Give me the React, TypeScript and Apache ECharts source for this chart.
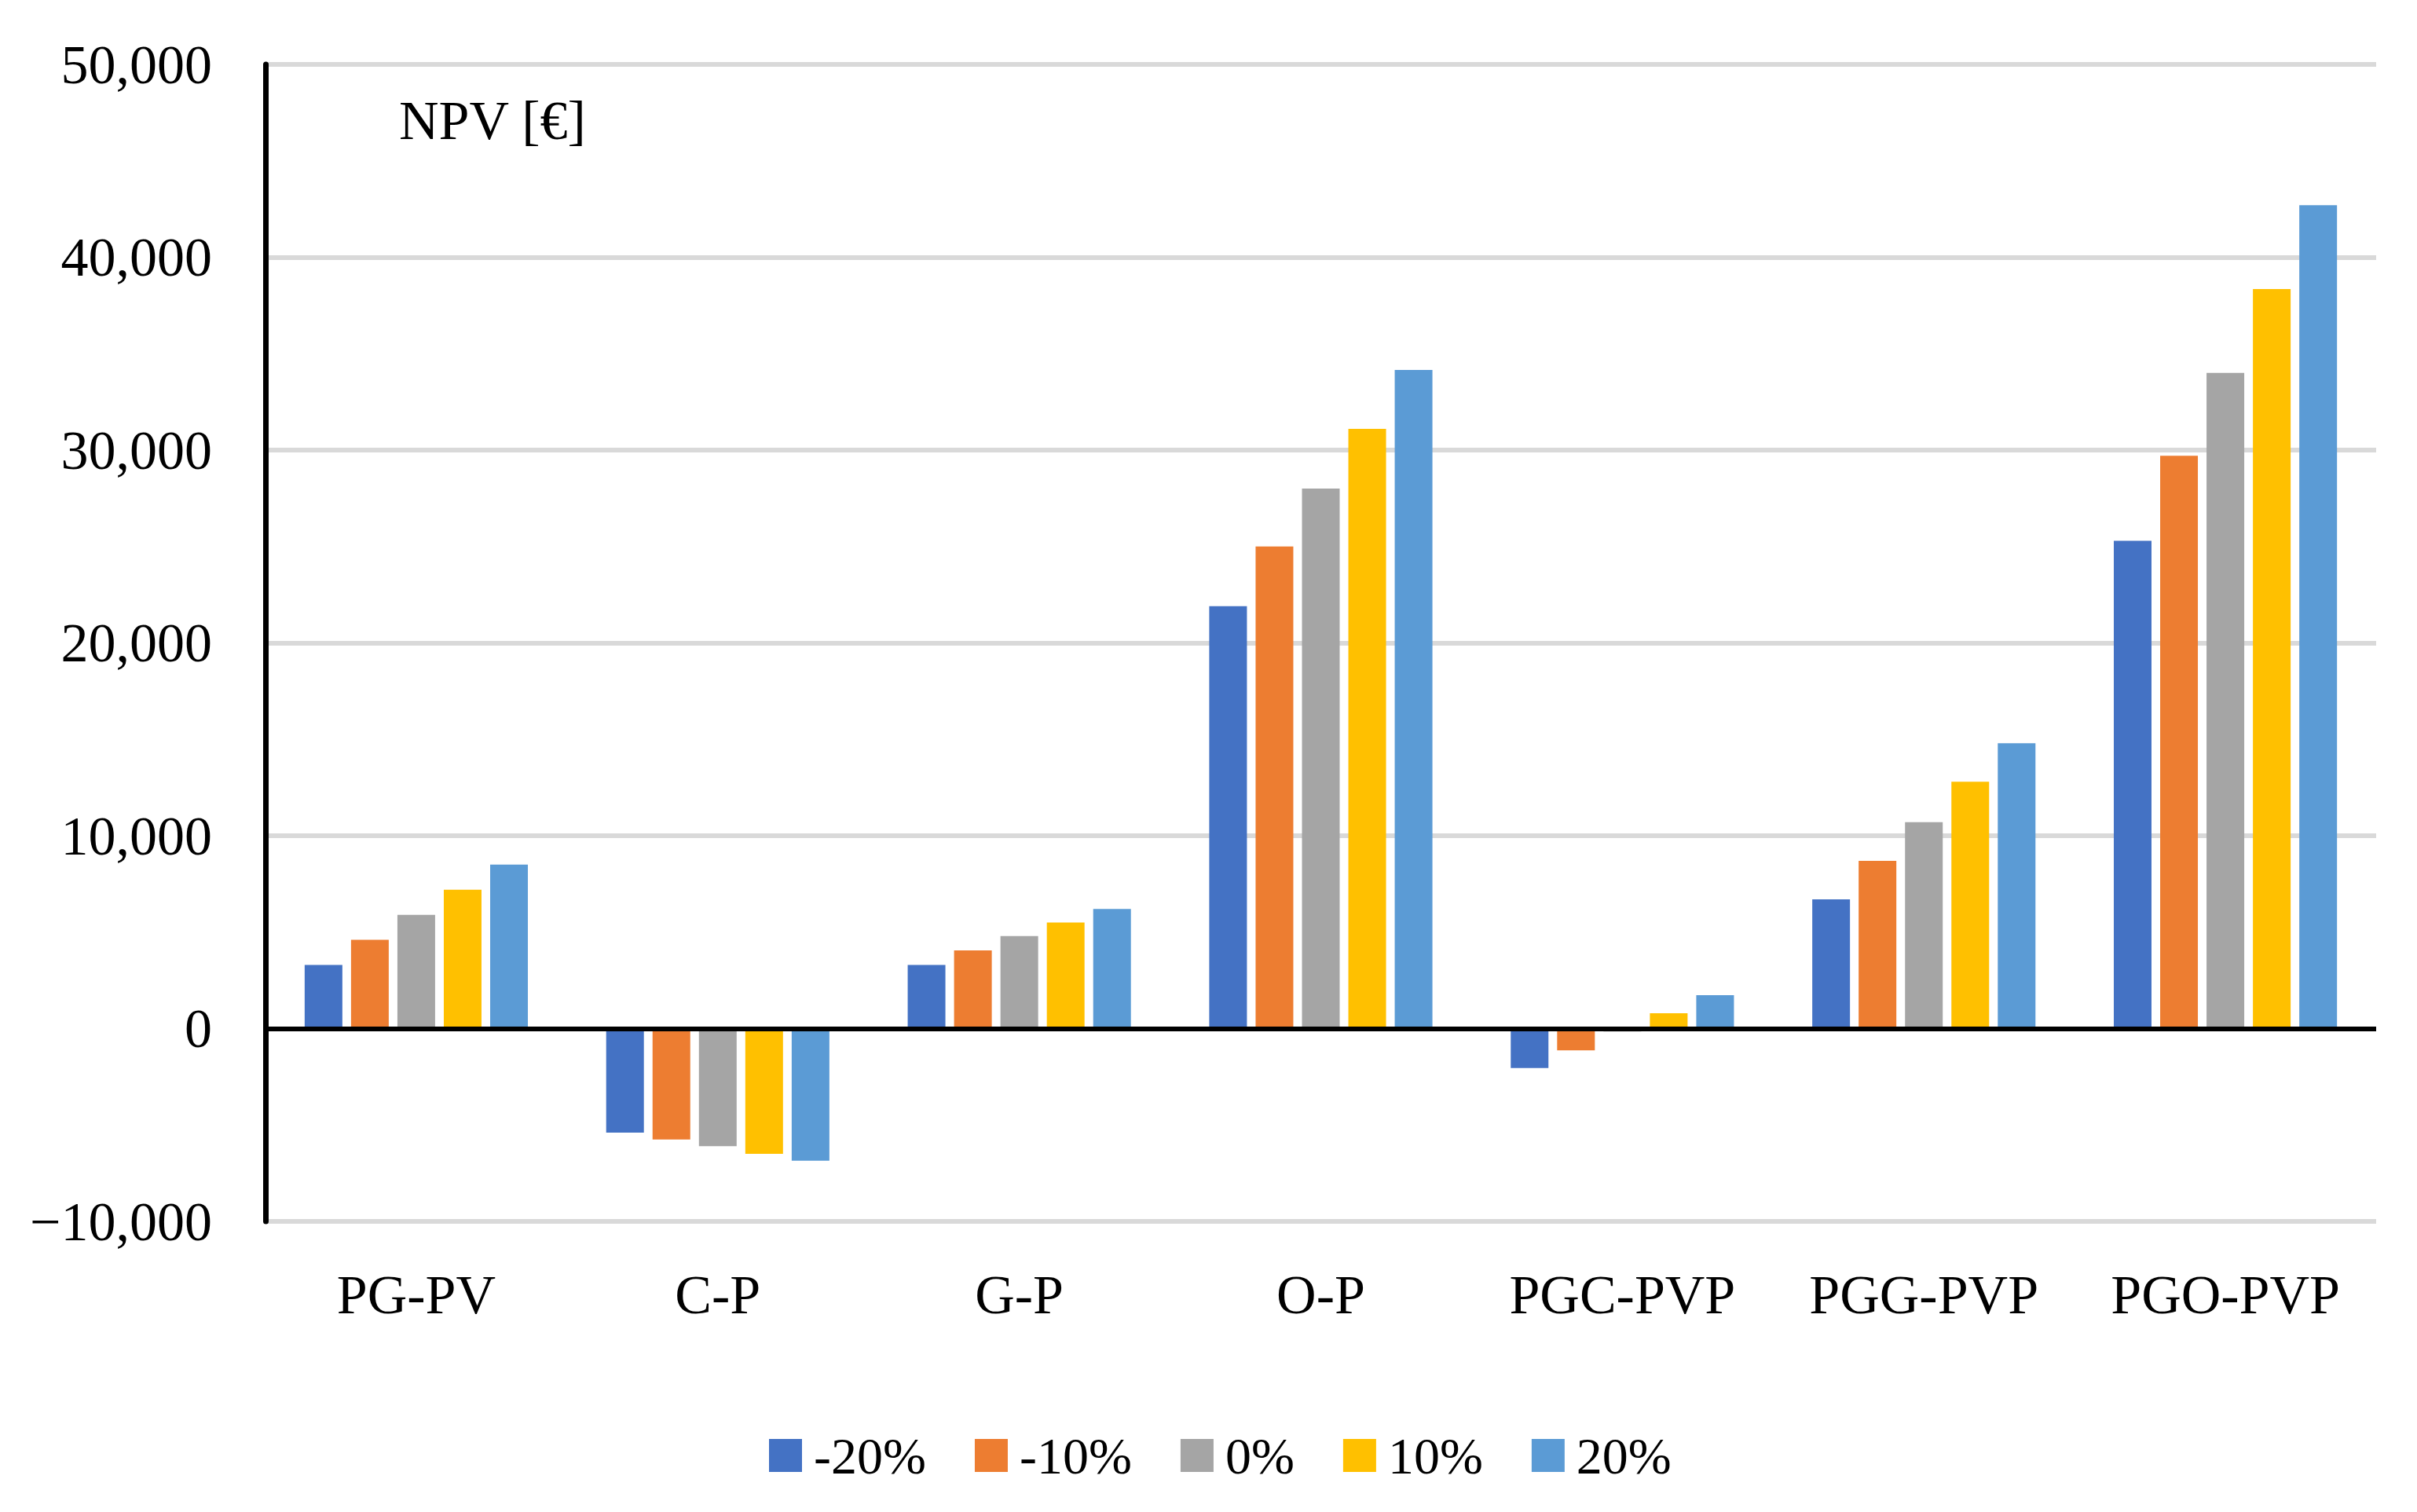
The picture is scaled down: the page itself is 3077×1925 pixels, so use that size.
import React, { useEffect, useRef } from "react";
import * as echarts from "echarts";

const categories = ["PG-PV", "C-P", "G-P", "O-P", "PGC-PVP", "PGG-PVP", "PGO-PVP"];
const seriesNames = ["-20%", "-10%", "0%", "10%", "20%"];
const seriesColors = ["#4472C4", "#ED7D31", "#A5A5A5", "#FFC000", "#5B9BD5"];
const valuesM20 = [3300, -5400, 3300, 21900, -2050, 6700, 25300];
const valuesM10 = [4600, -5750, 4050, 25000, -1130, 8700, 29700];
const values0 = [5900, -6100, 4800, 28000, -150, 10700, 34000];
const valuesP10 = [7200, -6500, 5500, 31100, 790, 12800, 38350];
const valuesP20 = [8500, -6850, 6200, 34150, 1730, 14800, 42700];
const allValues = [valuesM20, valuesM10, values0, valuesP10, valuesP20];
const yMin = -10000;
const yMax = 50000;
const yStep = 10000;
const yTitle = "NPV [€]";

const FONT = "'Liberation Serif', 'DejaVu Serif', serif";

function fmt(v: number): string {
  const s = Math.abs(v).toString().replace(/\B(?=(\d{3})+(?!\d))/g, ",");
  return v < 0 ? "\u2212" + s : s;
}

export default function App() {
  const ref = useRef<HTMLDivElement>(null);
  useEffect(() => {
    document.body.style.margin = "0";
    const chart = echarts.init(ref.current!, null, { renderer: "svg" });
    const series: any[] = seriesNames.map((name, i) => ({
      name,
      type: "bar",
      data: allValues[i],
      barWidth: 48,
      barGap: "23%",
      itemStyle: { color: seriesColors[i] },
      z: 3,
    }));
    series[0].markLine = {
      silent: true,
      symbol: ["none", "none"],
      label: { show: false },
      lineStyle: { color: "#000", width: 6, type: "solid" },
      data: [{ yAxis: 0 }],
      z: 5,
    };
    chart.setOption({
      animation: false,
      backgroundColor: "#fff",
      grid: { left: 338, right: 52, top: 82, bottom: 370, containLabel: false },
      xAxis: {
        type: "category",
        data: categories,
        axisLine: { show: false },
        axisTick: { show: false },
        axisLabel: {
          fontFamily: FONT,
          fontSize: 70,
          color: "#000",
          margin: 58,
          interval: 0,
        },
      },
      yAxis: {
        type: "value",
        min: yMin,
        max: yMax,
        interval: yStep,
        axisLine: { show: true, lineStyle: { color: "#000", width: 7 } },
        axisTick: { show: false },
        splitLine: { show: true, lineStyle: { color: "#D9D9D9", width: 6 } },
        axisLabel: {
          fontFamily: FONT,
          fontSize: 70,
          color: "#000",
          margin: 68,
          formatter: (v: number) => fmt(v),
        },
      },
      legend: {
        data: seriesNames,
        left: 974,
        top: 1815,
        icon: "rect",
        itemWidth: 42,
        itemHeight: 42,
        itemGap: 62,
        textStyle: {
          fontFamily: FONT,
          fontSize: 66,
          color: "#000",
          lineHeight: 66,
          padding: [0, 0, 0, 10],
        },
      },
      graphic: [
        {
          type: "text",
          left: 508,
          top: 118,
          style: {
            text: yTitle,
            fontFamily: FONT,
            fontSize: 70,
            fill: "#000",
          },
        },
      ],
      series,
    });
    return () => chart.dispose();
  }, []);
  return (
    <div
      ref={ref}
      style={{ position: "fixed", left: 0, top: 0, width: 3077, height: 1925 }}
    />
  );
}
